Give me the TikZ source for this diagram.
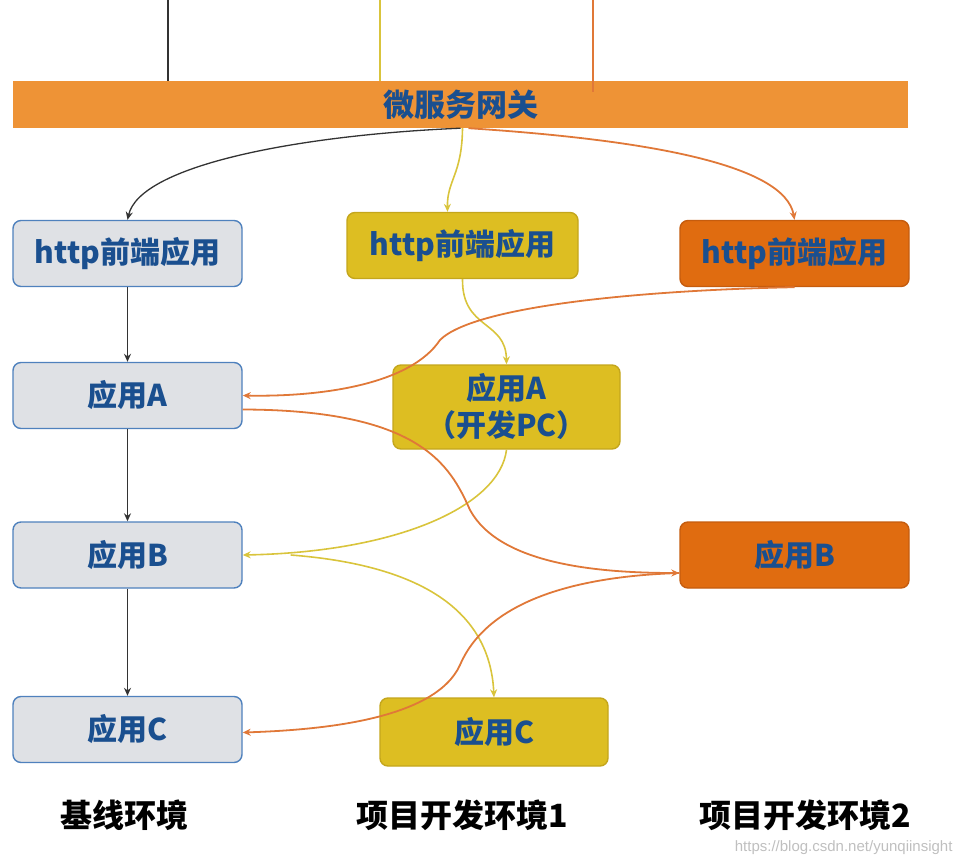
\documentclass[tikz,border=0pt]{standalone}
\usepackage{fontspec}
\setmainfont{Noto Sans CJK SC}
\newfontfamily\wmfont{Liberation Sans}
\usetikzlibrary{arrows.meta,calc}
\definecolor{gwfill}{HTML}{EE9336}
\definecolor{grayfill}{HTML}{DFE1E5}
\definecolor{blueborder}{HTML}{4F81BD}
\definecolor{yelfill}{HTML}{DDBE22}
\definecolor{yelborder}{HTML}{C4A61C}
\definecolor{orfill}{HTML}{E06C10}
\definecolor{orborder}{HTML}{C55C0E}
\definecolor{txtblue}{HTML}{1A4F8F}
\definecolor{blkline}{HTML}{333333}
\definecolor{yelline}{HTML}{D9C43C}
\definecolor{orline}{HTML}{E07838}
\tikzset{
  box/.style={rounded corners=8pt, line width=1.4pt, minimum width=229pt, minimum height=66pt,
    inner sep=0pt, font=\fontsize{30}{34}\selectfont\bfseries, text=txtblue, align=center},
  basebox/.style={box, fill=grayfill, draw=blueborder},
  yelbox/.style={box, fill=yelfill, draw=yelborder},
  orbox/.style={box, fill=orfill, draw=orborder},
  tip/.style={-{Stealth[length=8pt,width=7pt]}},
  blk/.style={tip, draw=blkline, line width=1.3pt},
  yel/.style={tip, draw=yelline, line width=1.6pt},
  orn/.style={tip, draw=orline, line width=1.8pt},
  envlabel/.style={font=\fontsize{32}{36}\selectfont\bfseries, text=black}
}
\begin{document}
\begin{tikzpicture}[x=1pt,y=-1pt]
\useasboundingbox (0,0) rectangle (964,864);
% top lines
\coordinate (t1) at (168,0);
\coordinate (t2) at (380,0);
\coordinate (t3) at (593,0);
\coordinate (t3e) at (593,92);
% gateway
\node[fill=gwfill, minimum width=895pt, minimum height=47pt, inner sep=0pt,
  font=\fontsize{31}{34}\selectfont\bfseries, text=txtblue] (gw) at (460.5,104.5) {微服务网关};
\draw[blkline, line width=1.3pt] (t1) -- (t1 |- gw.north);
\draw[yelline, line width=1.5pt] (t2) -- (t2 |- gw.north);
\draw[orline, line width=1.5pt] (t3) -- (t3e);
% boxes
\node[basebox] (lhttp) at (127.5,253.5) {http前端应用};
\node[basebox] (lA) at (127.5,395.5) {应用A};
\node[basebox] (lB) at (127.5,555) {应用B};
\node[basebox] (lC) at (127.5,729.5) {应用C};
\node[yelbox, minimum width=231pt] (mhttp) at (462.5,245.5) {http前端应用};
\node[yelbox, minimum width=227pt, minimum height=84pt, font=\fontsize{30}{37}\selectfont\bfseries] (mA) at (506.5,407) {应用A\\（开发PC）};
\node[yelbox, minimum width=228pt, minimum height=68pt] (mC) at (494,732) {应用C};
\node[orbox] (rhttp) at (794.5,253.5) {http前端应用};
\node[orbox] (rB) at (794.5,555) {应用B};
% gateway connectors
\draw[blk] (gw.south) .. controls (300,135) and (140,165) .. (lhttp.north);
\draw[yel] ($(gw.south)+(2,0)$) .. controls (462,175) and (447,180) .. ($(mhttp.north)+(-15,0)$);
\draw[orn] ($(gw.south)+(8,0)$) .. controls (650,140) and (785,165) .. (rhttp.north);
% baseline chain
\draw[blk] (lhttp) -- (lA);
\draw[blk] (lA) -- (lB);
\draw[blk] (lB) -- (lC);
% project 1
\draw[yel] (mhttp.south) .. controls (462,330) and (506,320) .. (mA.north);
\draw[yel] (mA.south) .. controls (500,505) and (400,552) .. (lB.east);
\draw[yel] ($(lB.east)+(48,0)$) .. controls (420,565) and (490,610) .. (mC.north);
% project 2
\draw[orn] (rhttp.south) .. controls (650,290) and (475,305) .. (440,340)
  .. controls (410,385) and (320,397) .. (lA.east);
\draw[orn] ($(lA.east)+(0,14)$) .. controls (420,410) and (450,465) .. (470,510)
  .. controls (500,565) and (600,573) .. ($(rB.west)+(0,18)$);
\draw[orn] ($(rB.west)+(0,18)$) .. controls (520,578) and (475,630) .. (460,665)
  .. controls (435,720) and (320,730) .. ($(lC.east)+(0,3)$);
% environment labels
\node[envlabel] (e1) at (124,815) {基线环境};
\node[envlabel] (e2) at (462,815) {项目开发环境1};
\node[envlabel] (e3) at (805,815) {项目开发环境2};
\node[font=\wmfont\fontsize{15}{18}\selectfont, text=black!25, anchor=east] (wm) at (956,848) {https://blog.csdn.net/yunqiinsight};
\end{tikzpicture}
\end{document}
